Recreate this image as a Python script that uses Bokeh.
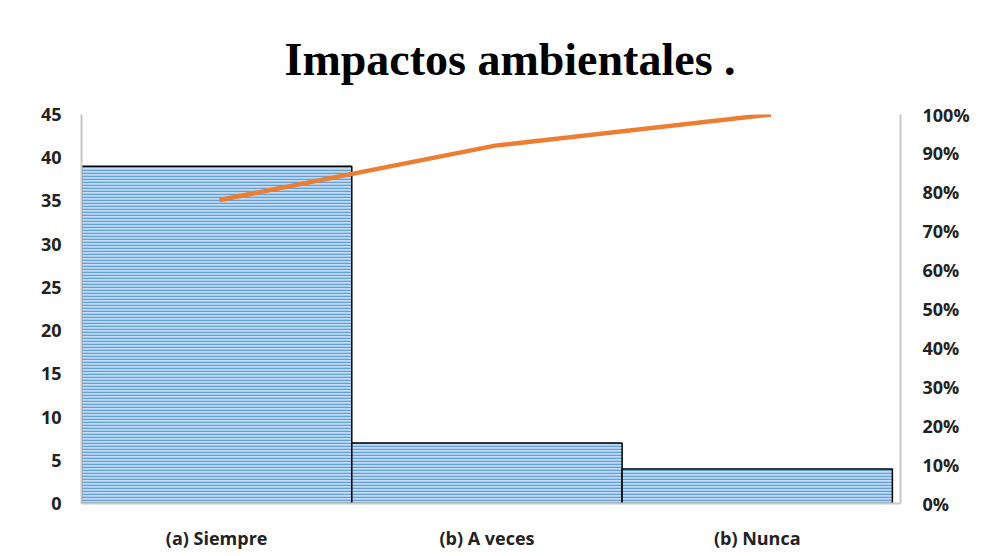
from bokeh.plotting import figure
from bokeh.models import (Range1d, LinearAxis, FixedTicker, Title,
                          NumeralTickFormatter, ColumnDataSource)
from bokeh.embed import file_html
from bokeh.resources import INLINE

categories = ["(a) Siempre", "(b) A veces", "(b) Nunca"]
counts = [39, 7, 4]
cumulative_pct = [0.78, 0.92, 1.00]
y_ticks = [0, 5, 10, 15, 20, 25, 30, 35, 40, 45]
pct_ticks = [0, 0.1, 0.2, 0.3, 0.4, 0.5, 0.6, 0.7, 0.8, 0.9, 1.0]

pos = [i + 0.5 for i in range(len(categories))]
src = ColumnDataSource(dict(x=pos, top=counts, pct=cumulative_pct))

FONT = "Open Sans"
p = figure(width=985, height=552, output_backend="svg", toolbar_location=None,
           x_range=Range1d(0, 3.03), y_range=Range1d(0, 45),
           min_border_left=81, min_border_right=85, min_border_top=114, min_border_bottom=46)
p.title = None
p.outline_line_color = None
p.xgrid.visible = False
p.ygrid.visible = False
p.extra_y_ranges = {"pct": Range1d(0, 1)}
p.extra_x_ranges = {"lx": Range1d(0, 2.97)}

p.vbar(x="x", top="top", width=1.0, source=src, fill_color="#c2dbf3",
       hatch_pattern="horizontal_line", hatch_color="#62a0db", hatch_scale=3,
       hatch_weight=1.5, line_color="black", line_width=1.5)
p.line(x="x", y="pct", source=src, x_range_name="lx", y_range_name="pct",
       line_color="#ed7d31", line_width=4.5)

def style_axis(ax, size="18px"):
    ax.axis_line_color = "#c8c8c8"
    ax.axis_line_width = 2
    ax.major_tick_line_color = None
    ax.minor_tick_line_color = None
    ax.major_label_text_font = FONT
    ax.major_label_text_font_style = "bold"
    ax.major_label_text_font_size = size
    ax.major_label_text_color = "#222222"

xa = p.xaxis[0]
xa.ticker = FixedTicker(ticks=pos)
xa.major_label_overrides = {pos[i]: categories[i] for i in range(len(categories))}
style_axis(xa, "18px")
xa.major_label_standoff = 16

ya = p.yaxis[0]
ya.ticker = FixedTicker(ticks=y_ticks)
style_axis(ya)
ya.major_label_standoff = 14

ra = LinearAxis(y_range_name="pct", ticker=FixedTicker(ticks=pct_ticks),
                formatter=NumeralTickFormatter(format="0%"))
style_axis(ra)
ra.major_label_standoff = 16
p.add_layout(ra, "right")

t = Title(text="Impactos ambientales .", align="left", text_font="Liberation Serif",
          text_font_style="bold", text_font_size="46px", text_color="black",
          offset=203, standoff=60)
p.add_layout(t, "above")

open("out.html", "w").write(file_html(p, INLINE))
